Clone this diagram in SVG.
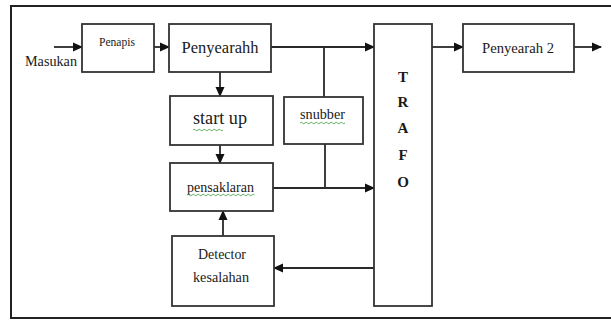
<svg xmlns="http://www.w3.org/2000/svg" width="611" height="320" viewBox="0 0 611 320">
<defs>
<style>
.box{fill:#fff;stroke:#333;stroke-width:1.8}
.ln{fill:none;stroke:#2a2a2a;stroke-width:1.8}
.t{fill:#1a1a1a;text-anchor:middle}
.sq{fill:none;stroke:#3a9a3a;stroke-width:0.8}
</style>
<marker id="ah" markerUnits="userSpaceOnUse" markerWidth="10" markerHeight="10" viewBox="0 0 10 10" refX="9" refY="5" orient="auto">
<path d="M0,0.5 L10,5 L0,9.5 Z" fill="#111"/>
</marker>
</defs>
<rect width="611" height="320" fill="#fff"/>
<path d="M611,6 H11 V318 H611" fill="none" stroke="#222" stroke-width="2"/>

<g id="connectors">
<line class="ln" x1="54" y1="47" x2="82" y2="47" marker-end="url(#ah)"/>
<line class="ln" x1="154" y1="47" x2="169" y2="47" marker-end="url(#ah)"/>
<line class="ln" x1="271" y1="47" x2="374" y2="47" marker-end="url(#ah)"/>
<line class="ln" x1="324" y1="47" x2="324" y2="97"/>
<line class="ln" x1="325" y1="144" x2="325" y2="188"/>
<line class="ln" x1="273" y1="188" x2="374" y2="188" marker-end="url(#ah)"/>
<line class="ln" x1="220" y1="72" x2="220" y2="96" marker-end="url(#ah)"/>
<line class="ln" x1="220" y1="145" x2="220" y2="163" marker-end="url(#ah)"/>
<line class="ln" x1="223" y1="236" x2="223" y2="211" marker-end="url(#ah)"/>
<line class="ln" x1="374" y1="268" x2="274" y2="268" marker-end="url(#ah)"/>
<line class="ln" x1="432" y1="47" x2="463" y2="47" marker-end="url(#ah)"/>
<line class="ln" x1="574" y1="47" x2="601" y2="47" marker-end="url(#ah)"/>
</g>

<g font-family="'Liberation Serif', 'Times New Roman', serif">
<g id="masukan">
<text class="t" x="51" y="66" font-size="14" textLength="52" lengthAdjust="spacingAndGlyphs">Masukan</text>
</g>

<g id="penapis">
<rect class="box" x="82" y="24" width="72" height="48"/>
<text class="t" x="117" y="46" font-size="11.5" textLength="36" lengthAdjust="spacingAndGlyphs">Penapis</text>
</g>

<g id="penyearahh">
<rect class="box" x="169" y="24" width="102" height="48"/>
<text class="t" x="220" y="53" font-size="16.5" textLength="77" lengthAdjust="spacingAndGlyphs">Penyearahh</text>
</g>

<g id="startup">
<rect class="box" x="170" y="96" width="103" height="49"/>
<text class="t" x="220" y="124" font-size="18" textLength="54" lengthAdjust="spacingAndGlyphs">start up</text>
<path class="sq" d="M193,130 q1.25,-1.5 2.5,0 t2.5,0 t2.5,0 t2.5,0 t2.5,0 t2.5,0 t2.5,0 t2.5,0 t2.5,0 t2.5,0 t2.5,0 t2.5,0"/>
</g>

<g id="snubber">
<rect class="box" x="284" y="97" width="79" height="47"/>
<text class="t" x="322.5" y="119" font-size="14" textLength="45" lengthAdjust="spacingAndGlyphs">snubber</text>
<path class="sq" d="M300,123 q1.25,-1.5 2.5,0 t2.5,0 t2.5,0 t2.5,0 t2.5,0 t2.5,0 t2.5,0 t2.5,0 t2.5,0 t2.5,0 t2.5,0 t2.5,0 t2.5,0 t2.5,0 t2.5,0 t2.5,0 t2.5,0 t2.5,0"/>
</g>

<g id="pensaklaran">
<rect class="box" x="170" y="163" width="103" height="48"/>
<text class="t" x="220.5" y="192" font-size="14" textLength="67" lengthAdjust="spacingAndGlyphs">pensaklaran</text>
<path class="sq" d="M187,195 q1.25,-1.5 2.5,0 t2.5,0 t2.5,0 t2.5,0 t2.5,0 t2.5,0 t2.5,0 t2.5,0 t2.5,0 t2.5,0 t2.5,0 t2.5,0 t2.5,0 t2.5,0 t2.5,0 t2.5,0 t2.5,0 t2.5,0 t2.5,0 t2.5,0 t2.5,0 t2.5,0 t2.5,0 t2.5,0 t2.5,0 t2.5,0 t2.5,0"/>
</g>

<g id="detector">
<rect class="box" x="172" y="236" width="102" height="70"/>
<text class="t" x="222" y="259" font-size="14" textLength="48" lengthAdjust="spacingAndGlyphs">Detector</text>
<text class="t" x="221" y="282" font-size="14" textLength="56" lengthAdjust="spacingAndGlyphs">kesalahan</text>
</g>

<g id="trafo">
<rect class="box" x="374" y="24" width="58" height="282"/>
<text class="t" x="403" y="82" font-size="15" font-weight="bold">T</text>
<text class="t" x="403" y="107" font-size="15" font-weight="bold">R</text>
<text class="t" x="403" y="133" font-size="15" font-weight="bold">A</text>
<text class="t" x="403" y="160" font-size="15" font-weight="bold">F</text>
<text class="t" x="403" y="187" font-size="15" font-weight="bold">O</text>
</g>

<g id="penyearah2">
<rect class="box" x="463" y="24" width="111" height="48"/>
<text class="t" x="518" y="53" font-size="14.7" textLength="72" lengthAdjust="spacingAndGlyphs">Penyearah 2</text>
</g>
</g>
</svg>
